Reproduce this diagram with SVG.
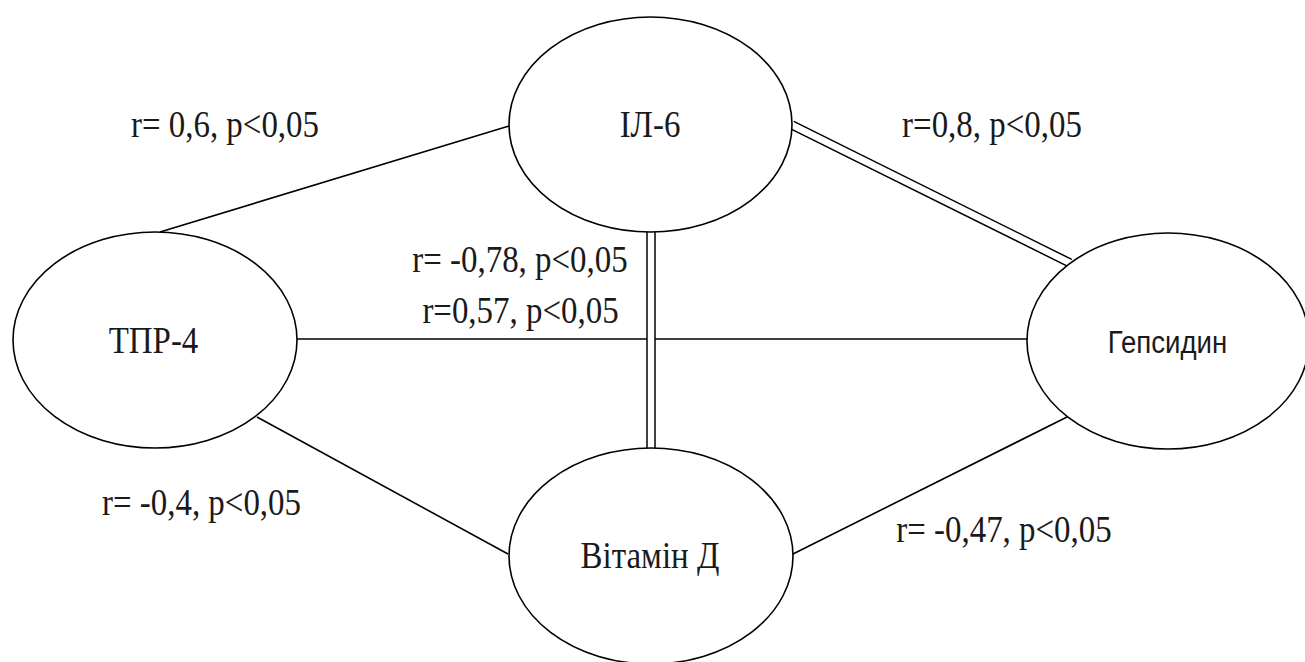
<svg xmlns="http://www.w3.org/2000/svg" width="1305" height="662" viewBox="0 0 1305 662">
  <style>
    .node { fill: #ffffff; stroke: #000000; stroke-width: 1.6; }
    .link { fill: none; stroke: #000000; stroke-width: 1.6; }
    .dbl-out { fill: none; stroke: #000000; stroke-width: 9.5; }
    .dbl-in { fill: none; stroke: #ffffff; stroke-width: 6.5; }
    .lbl { font-family: "Liberation Serif", "Times New Roman", serif; font-size: 37px; fill: #1a1a1a; text-anchor: middle; }
    .sans { font-family: "Liberation Sans", Arial, sans-serif; font-size: 31px; fill: #1a1a1a; text-anchor: middle; }
  </style>
  <rect x="0" y="0" width="1305" height="662" fill="#ffffff"/>

  <g id="connectors">
    <!-- single lines -->
    <line class="link" x1="160" y1="232" x2="509" y2="126"/>
    <line class="link" x1="297" y1="339" x2="1027" y2="339"/>
    <line class="link" x1="257" y1="417" x2="508" y2="554"/>
    <line class="link" x1="793" y1="554" x2="1067" y2="417"/>
    <!-- double lines -->
    <line class="dbl-out" x1="651" y1="232" x2="651" y2="448"/>
    <line class="dbl-in" x1="651" y1="230" x2="651" y2="450"/>
    <line class="dbl-out" x1="792" y1="125" x2="1070" y2="263"/>
    <line class="dbl-in" x1="790" y1="124" x2="1072" y2="264"/>
  </g>

  <g id="node-il6">
    <ellipse class="node" cx="650.5" cy="124.5" rx="141.5" ry="107.5"/>
    <text class="lbl" transform="translate(650 137) scale(0.89 1)">ІЛ-6</text>
  </g>

  <g id="node-tpr4">
    <ellipse class="node" cx="155" cy="340" rx="142" ry="108"/>
    <text class="lbl" transform="translate(153.5 353) scale(0.89 1)">ТПР-4</text>
  </g>

  <g id="node-hepcidin">
    <ellipse class="node" cx="1168" cy="341" rx="141" ry="108"/>
    <text class="sans" transform="translate(1167.5 353) scale(0.89 1)">Гепсидин</text>
  </g>

  <g id="node-vitd">
    <ellipse class="node" cx="651" cy="556" rx="142" ry="108"/>
    <text class="lbl" transform="translate(650 568) scale(0.89 1)">Вітамін Д</text>
  </g>

  <g id="labels">
    <text class="lbl" transform="translate(225 137) scale(0.89 1)">r= 0,6, p&lt;0,05</text>
    <text class="lbl" transform="translate(992 137) scale(0.89 1)">r=0,8, p&lt;0,05</text>
    <text class="lbl" transform="translate(520 272) scale(0.89 1)">r= -0,78, p&lt;0,05</text>
    <text class="lbl" transform="translate(520.5 323) scale(0.89 1)">r=0,57, p&lt;0,05</text>
    <text class="lbl" transform="translate(201.5 515) scale(0.89 1)">r= -0,4, p&lt;0,05</text>
    <text class="lbl" transform="translate(1004 542) scale(0.89 1)">r= -0,47, p&lt;0,05</text>
  </g>
</svg>
